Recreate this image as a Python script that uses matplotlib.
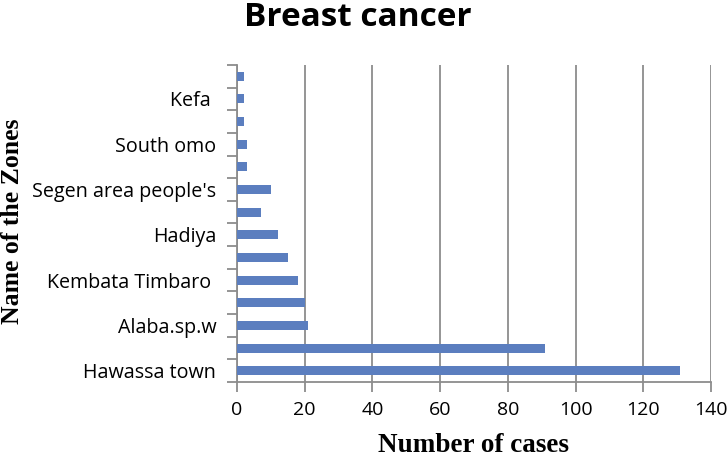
import matplotlib as mpl
mpl.use('Agg')
import matplotlib.pyplot as plt
import numpy as np

# Zones, bottom to top (only every other one is labelled on the chart)
zones = ["Hawassa town", "", "Alaba.sp.w", "", "Kembata Timbaro ", "",
         "Hadiya", "", "Segen area people's", "", "South omo", "",
         "Kefa ", ""]
cases = [131, 91, 21, 20, 18, 15, 12, 7, 10, 3, 3, 2, 2, 2]
xticks = [0, 20, 40, 60, 80, 100, 120, 140]

grey = '#8c8c8c'
barcol = '#5b7ebf'

fig = plt.figure(figsize=(7.28, 4.57), dpi=100)
ax = fig.add_axes([0.3255, 0.1641, 0.6511, 0.6937])

pos = np.arange(len(cases))
ax.barh(pos, cases, height=0.4, color=barcol, zorder=3)

ax.set_xlim(0, 140)
ax.set_ylim(-0.5, len(cases) - 0.5)
ax.set_xticks(xticks)
ax.set_xticklabels([str(t) for t in xticks], fontsize=14, family='Open Sans')
ax.grid(axis='x', color=grey, linewidth=1.3, zorder=0)

# category boundary ticks, labels in between
ax.set_yticks(np.arange(-0.5, len(cases), 1.0))
ax.set_yticklabels([])
lab = [i for i in pos if zones[i] != ""]
ax.set_yticks(lab, minor=True)
ax.set_yticklabels([zones[i] for i in lab], minor=True, fontsize=14.2, family='Open Sans')
ax.tick_params(axis='y', which='major', length=7, color=grey, width=1.3)
ax.tick_params(axis='y', which='minor', length=0, pad=15)
ax.tick_params(axis='x', length=7, color=grey, width=1.3, pad=7)

for s in ['top', 'right']:
    ax.spines[s].set_visible(False)
for s in ['left', 'bottom']:
    ax.spines[s].set_color(grey)
    ax.spines[s].set_linewidth(1.3)

fig.text(0.492, 0.998, 'Breast cancer', ha='center', va='top', fontsize=24,
         fontweight='bold', family='Open Sans')
ax.set_xlabel('Number of cases', fontsize=19.5, fontweight='bold',
              family='Liberation Serif', labelpad=10)
fig.text(0.017, 0.515, 'Name of the Zones', rotation=90, ha='center', va='center',
         fontsize=18.5, fontweight='bold', family='Liberation Serif')

fig.savefig("out.png", dpi=100)
